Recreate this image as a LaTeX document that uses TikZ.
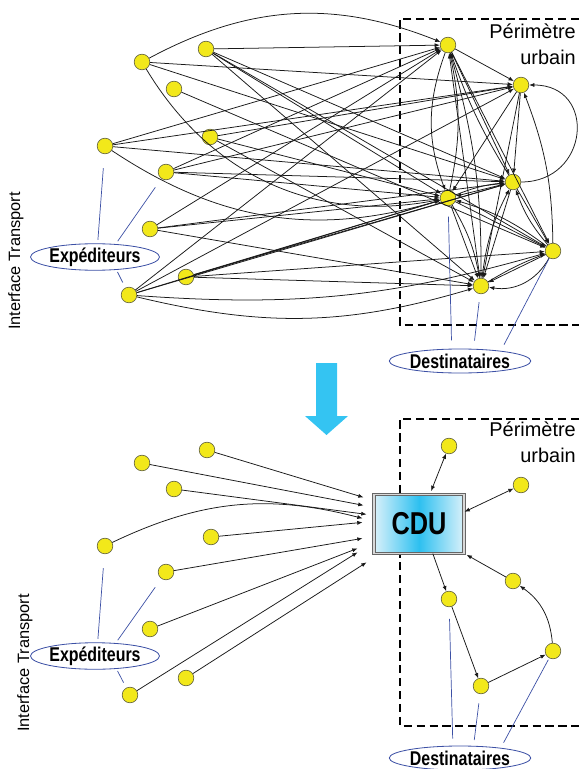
\documentclass[tikz,border=0pt]{standalone}
\usepackage{fontspec}
\setmainfont{Liberation Sans}
\newfontfamily\narrowsf[FakeStretch=0.8]{Liberation Sans}
\usetikzlibrary{positioning}
\usetikzlibrary{calc}
\usetikzlibrary{arrows.meta,shapes.geometric}

\definecolor{dotyellow}{RGB}{242,232,26}
\definecolor{dotline}{RGB}{95,95,60}
\definecolor{tagblue}{RGB}{60,80,165}
\definecolor{cdublue}{RGB}{45,192,240}
\definecolor{cdupale}{RGB}{218,241,250}
\definecolor{arrowblue}{RGB}{52,196,242}

\tikzset{
  dot/.style={circle,fill=dotyellow,draw=dotline,line width=0.5pt,minimum size=0.47cm,inner sep=0pt},
  fl/.style={-{Latex[length=4.5pt,width=3.5pt]},line width=0.65pt,draw=black!90},
  fll/.style={fl,{Latex[length=4.5pt,width=3.5pt]}-{Latex[length=4.5pt,width=3.5pt]}},
  tag/.style={ellipse,draw=tagblue,line width=0.7pt,inner sep=0pt,font=\narrowsf\bfseries\fontsize{17}{17}\selectfont},
  tagline/.style={draw=tagblue,line width=0.6pt},
  zone/.style={line width=2pt,dash pattern=on 7pt off 4pt},
  zonetxt/.style={align=right,inner sep=0pt,font=\fontsize{17}{22}\selectfont},
  side/.style={rotate=90,inner sep=0pt,font=\fontsize{14}{14}\selectfont},
  cdubox/.style={rectangle,draw=black!60,line width=0.8pt,double=black!15,double distance=1pt,
    left color=cdupale,right color=cdupale,middle color=cdublue,
    minimum width=2.7cm,minimum height=1.75cm,font=\narrowsf\bfseries\fontsize{27}{27}\selectfont}
}

\begin{document}
\begin{tikzpicture}[x=0.03cm,y=0.03cm]
\useasboundingbox (0,0) rectangle (579,-769);

% avant : livraisons directes
\node[dot](S1) at (142,-62){};
\node[dot](S2) at (206,-49){};
\node[dot](S3) at (174,-89){};
\node[dot](S4) at (105,-146){};
\node[dot](S5) at (210,-137){};
\node[dot](S6) at (166,-172){};
\node[dot](S7) at (150,-229){};
\node[dot](S8) at (186,-277){};
\node[dot](S9) at (129,-295){};

\node[dot](D1) at (448,-45){};
\node[dot](D2) at (521,-85){};
\node[dot](D3) at (513,-182){};
\node[dot](D4) at (448,-198){};
\node[dot](D5) at (553,-251){};
\node[dot](D6) at (481,-286){};

\draw[zone](579,-19)--(400,-19)--(400,-325)--(579,-325);
\node[zonetxt,anchor=north east](perA) at (576,-24){Périmètre\\urbain};
\node[side](ifA) at (16,-261){Interface Transport};

\node[tag,minimum width=3.54cm,minimum height=0.63cm](expA) at (95,-257){Expéditeurs};
\node[tag,minimum width=3.48cm,minimum height=0.72cm](dstA) at (460,-361){Destinataires};

\path
(S1) edge[fl,bend left=25] (D1)
(S1) edge[fl] (D2)
(S1) edge[fl] (D3)
(S1) edge[fl,bend right=35] (D4)
(S2) edge[fl] (D1)
(S2) edge[fl] (D3)
(S2) edge[fl] (D4)
(S2) edge[fl] (D5)
(S2) edge[fl] (D6)
(S3) edge[fl] (D5)
(S4) edge[fl] (D1)
(S4) edge[fl] (D2)
(S4) edge[fl] (D3)
(S4) edge[fl,bend right=25] (D4)
(S5) edge[fl] (D2)
(S5) edge[fl] (D4)
(S5) edge[fl] (D6)
(S6) edge[fl] (D1)
(S6) edge[fl] (D2)
(S6) edge[fl] (D3)
(S6) edge[fl] (D4)
(S7) edge[fl] (D1)
(S7) edge[fl] (D3)
(S7) edge[fl] (D4)
(S7) edge[fl] (D6)
(S8) edge[fl] (D3)
(S8) edge[fl] (D4)
(S8) edge[fl] (D5)
(S8) edge[fl] (D6)
(S9) edge[fl] (D1)
(S9) edge[fl] (D2)
(S9) edge[fl] (D3)
(S9) edge[fl] (D4)
(S9) edge[fl,bend right=10] (D5)
(S9) edge[fl,bend right=15] (D6);

\path
(D1) edge[fl] (D2)
(D1) edge[fl] (D3)
(D1) edge[fl] (D5)
(D1) edge[fl,bend left=8] (D6)
(D1) edge[fl,bend right=20] (D4)
(D4) edge[fl,bend right=12] (D1)
(D6) edge[fl] (D1)
(D3) edge[fl,bend left=6] (D1)
(D2) edge[fl] (D3)
(D2) edge[fl] (D4)
(D2) edge[fl] (D6)
(D3) edge[fl,out=0,in=0,looseness=1.8] (D2)
(D5) edge[fl,bend right=10] (D2)
(D3) edge[fl] (D4)
(D4) edge[fl,bend left=8] (D3)
(D3) edge[fl] (D5)
(D5) edge[fl,bend left=10] (D3)
(D3) edge[fl] (D6)
(D6) edge[fl,bend left=10] (D3)
(D4) edge[fl] (D6)
(D4) edge[fl,bend left=10] (D6)
(D4) edge[fl] (D5)
(D5) edge[fl,bend right=10] (D4)
(D5) edge[fl] (D6)
(D6) edge[fl,bend left=5] (D5)
(D5) edge[fl,bend left=35] (D6);

\path[tagline]
(expA.79) edge[shorten <=3pt,shorten >=12pt] (S4)
(expA.32) edge[shorten <=3pt,shorten >=9pt] (S6)
(expA.-31) edge[shorten <=2pt,shorten >=5pt] (S9)
(dstA.124) edge[shorten <=7pt,shorten >=9pt] (D4)
(dstA.42) edge[shorten <=7pt,shorten >=7pt] (D6)
(dstA.14) edge[shorten <=6pt,shorten >=0.5pt] (D5);

% fleche
\fill[arrowblue] (316,-363)--(337,-363)--(337,-416)--(348,-416)--(326.5,-435)--(305,-416)--(316,-416)--cycle;

% apres : CDU
\node[dot](B1) at (142,-463){};
\node[dot](B2) at (207,-450){};
\node[dot](B3) at (174,-489){};
\node[dot](B4) at (105,-546){};
\node[dot](B5) at (211,-537){};
\node[dot](B6) at (166,-572){};
\node[dot](B7) at (150,-629){};
\node[dot](B8) at (186,-678){};
\node[dot](B9) at (130,-695){};

\node[dot](E1) at (449,-446){};
\node[dot](E2) at (521,-485){};
\node[dot](E3) at (513,-581){};
\node[dot](E4) at (449,-599){};
\node[dot](E5) at (553,-651){};
\node[dot](E6) at (481,-686){};

\draw[zone](579,-419)--(400,-419)--(400,-726)--(579,-726);
\node[cdubox](cdu) at (419,-524){CDU};
\node[zonetxt,anchor=north east](perB) at (576,-422){Périmètre\\urbain};
\node[side](ifB) at (25,-663){Interface Transport};

\node[tag,minimum width=3.54cm,minimum height=0.63cm](expB) at (95,-656){Expéditeurs};
\node[tag,minimum width=3.48cm,minimum height=0.72cm](dstB) at (460,-758){Destinataires};

\path
(B2) edge[fl] ($(cdu.north west)+(-10,-3)$)
(B1) edge[fl] ($(cdu.north west)+(-10,-11)$)
(B3) edge[fl] ($(cdu.north west)+(-7,-20)$)
(B4) edge[fl,bend left=20] ($(cdu.north west)+(-11,-24)$)
(B5) edge[fl] ($(cdu.north west)+(-11,-28)$)
(B6) edge[fl] ($(cdu.north west)+(-11,-44)$)
(B7) edge[fl] ($(cdu.north west)+(-16,-54)$)
(B9) edge[fl] ($(cdu.north west)+(-16,-58)$)
(B8) edge[fl] ($(cdu.north west)+(-7,-68)$);

\path
(cdu.70) edge[fll,shorten <=3pt] (E1)
(cdu.15) edge[fll] (E2)
(E3) edge[fl,shorten >=2pt] (cdu.south east)
(cdu.-65) edge[fl] (E4)
(E4) edge[fl] (E6)
(E6) edge[fl] (E5)
(E5) edge[fl,bend right=25] (E3);

\path[tagline]
(expB.79) edge[shorten <=3pt,shorten >=12pt] (B4)
(expB.32) edge[shorten <=3pt,shorten >=9pt] (B6)
(expB.-31) edge[shorten <=2pt,shorten >=5pt] (B9)
(dstB.120) edge[shorten <=6pt,shorten >=10pt] (E4)
(dstB.42) edge[shorten <=5pt,shorten >=8pt] (E6)
(dstB.14) edge[shorten <=5pt,shorten >=1.5pt] (E5);
\end{tikzpicture}
\end{document}
